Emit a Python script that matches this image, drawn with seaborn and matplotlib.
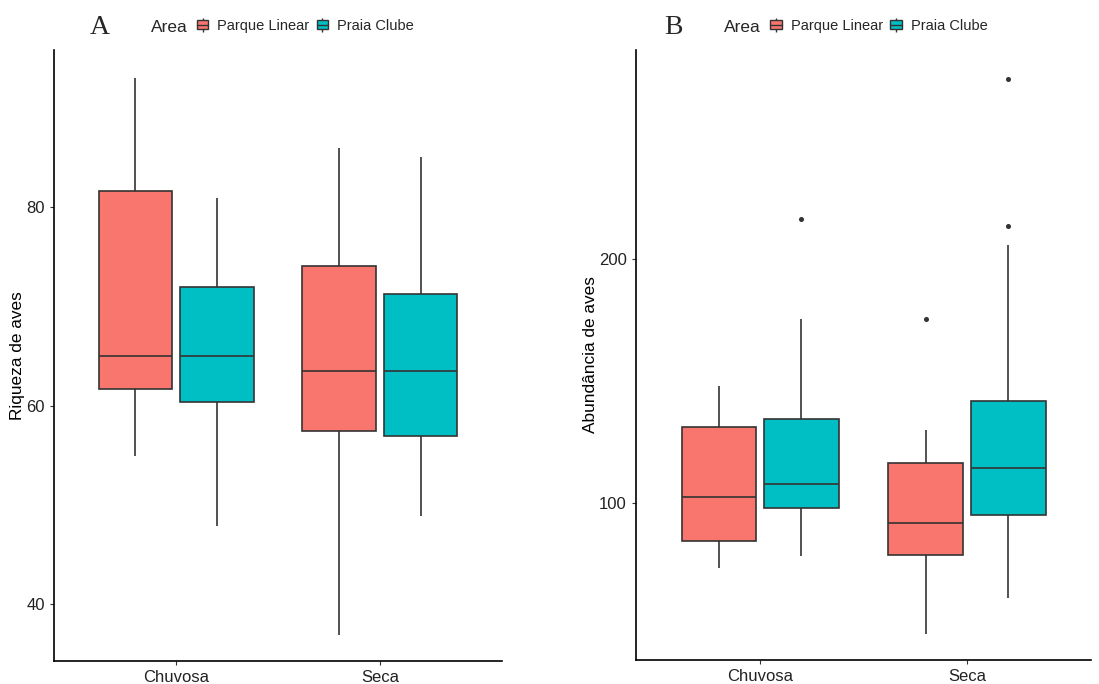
import matplotlib.pyplot as plt
import pandas as pd
import seaborn as sns
from matplotlib.legend_handler import HandlerTuple
from matplotlib.lines import Line2D
from matplotlib.patches import Patch

# estacoes / areas
SEASONS = ["Chuvosa", "Seca"]
AREAS = ["Parque Linear", "Praia Clube"]
COLORS = ["#F8766D", "#00BFC4"]

# riqueza (A): low whisker, q1, median, q3, high whisker, outliers
# order: Chuvosa-PL, Chuvosa-PC, Seca-PL, Seca-PC
rich_lo = [54.9, 47.9, 36.9, 48.9]
rich_q1 = [61.7, 60.4, 57.5, 56.9]
rich_med = [65.0, 65.0, 63.5, 63.5]
rich_q3 = [81.6, 71.9, 74.1, 71.2]
rich_hi = [93.0, 80.9, 85.9, 85.0]
rich_out = [[], [], [], []]

# abundancia (B)
abund_lo = [73.4, 78.6, 46.5, 61.4]
abund_q1 = [84.6, 98.1, 78.8, 95.1]
abund_med = [102.5, 107.8, 92.1, 114.5]
abund_q3 = [131.4, 134.4, 116.6, 141.8]
abund_hi = [148.1, 175.6, 130.0, 205.7]
abund_out = [[], [216.5], [175.3], [213.5, 273.8]]


def observations(lo, q1, med, q3, hi, outs):
    # 4m+1 values so the linear quartiles fall on q1 / med / q3 exactly
    m = 1 + len(outs)
    return [lo] * m + [q1] * m + [med] * m + [q3] + [hi] + list(outs)


def build_frame(lo, q1, med, q3, hi, outs):
    rows = []
    i = 0
    for season in SEASONS:
        for area in AREAS:
            for v in observations(lo[i], q1[i], med[i], q3[i], hi[i], outs[i]):
                rows.append({"Estacao": season, "Area": area, "valor": v})
            i += 1
    return pd.DataFrame(rows)


def key_glyph(color):
    # small boxplot-like legend key: whisker, box, median
    whisker = Line2D([], [], marker="|", markersize=10, markeredgewidth=1.0,
                     color="#333333", linestyle="")
    box = Patch(facecolor=color, edgecolor="#333333", linewidth=1.0)
    median = Line2D([], [], color="#333333", linewidth=1.0)
    return (whisker, box, median)


def draw_panel(ax, df, ylabel, yticks, ylim, letter, legend_x, fig):
    sns.boxplot(
        data=df, x="Estacao", y="valor", hue="Area", hue_order=AREAS,
        palette=COLORS, saturation=1, width=0.8, gap=0.1,
        linecolor="#333333", linewidth=1.2, whis=1.5, ax=ax,
        flierprops=dict(marker="o", markersize=2.6, markerfacecolor="#333333",
                        markeredgecolor="#333333"),
        capprops=dict(linewidth=0),
    )
    ax.set_xlim(-0.6, 1.6)
    ax.set_ylim(*ylim)
    ax.set_yticks(yticks)
    ax.set_xlabel("")
    ax.set_ylabel(ylabel, fontsize=12.4, color="black", labelpad=1)
    ax.tick_params(axis="both", labelsize=12, colors="#333333", length=3, width=0.8)
    ax.tick_params(axis="both", labelcolor="#222222")
    sns.despine(ax=ax)
    for side in ["left", "bottom"]:
        ax.spines[side].set_color("black")
        ax.spines[side].set_linewidth(1.2)
    if ax.get_legend() is not None:
        ax.get_legend().remove()

    handles = [key_glyph(c) for c in COLORS]
    fig.text(legend_x, 0.96, "Area", fontsize=12.5, ha="left", va="center")
    ax.legend(handles, AREAS, loc="center left", ncol=2, frameon=False,
              bbox_to_anchor=(legend_x + 0.042, 0.962), bbox_transform=fig.transFigure,
              handler_map={tuple: HandlerTuple(ndivide=1, pad=0)},
              fontsize=10.5, handlelength=0.8, handleheight=0.6, handletextpad=0.6,
              columnspacing=0.5, borderpad=0, borderaxespad=0)
    fig.text(legend_x - 0.055, 0.96, letter, fontsize=20, ha="left", va="center",
             family=["Liberation Serif", "DejaVu Serif"])


def main():
    sns.set_theme(style="ticks")
    plt.rcParams["font.family"] = ["Liberation Sans", "DejaVu Sans"]

    rich = build_frame(rich_lo, rich_q1, rich_med, rich_q3, rich_hi, rich_out)
    abund = build_frame(abund_lo, abund_q1, abund_med, abund_q3, abund_hi, abund_out)

    fig = plt.figure(figsize=(10.99, 6.84), dpi=100)
    ax_a = fig.add_axes([54 / 1099, 23 / 684, 448 / 1099, 611 / 684])
    ax_b = fig.add_axes([636 / 1099, 24 / 684, 455 / 1099, 610 / 684])

    draw_panel(ax_a, rich, "Riqueza de aves", [40, 60, 80], (34.3, 95.8), "A", 0.137, fig)
    draw_panel(ax_b, abund, "Abundância de aves", [100, 200], (35.9, 285.5), "B", 0.659, fig)

    fig.savefig("out.png", dpi=100)
    plt.close(fig)


if __name__ == "__main__":
    main()
